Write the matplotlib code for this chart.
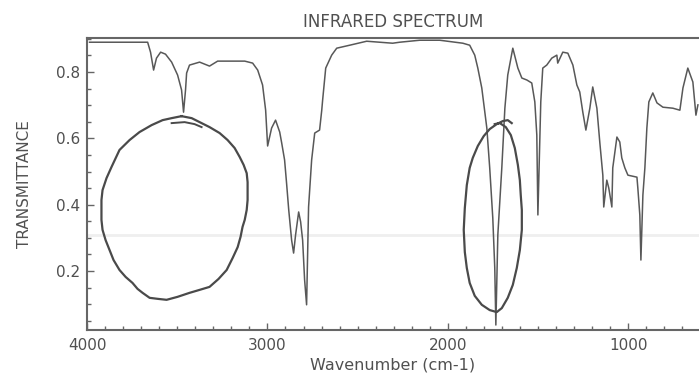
import matplotlib
matplotlib.use('Agg')
import matplotlib.pyplot as plt
from matplotlib.ticker import MultipleLocator

# spectrum (wavenumber, transmittance)
wavenumber = [3986, 3664, 3648, 3631, 3615, 3592, 3565, 3531, 3498, 3476,
              3465, 3454, 3448, 3432, 3376, 3321, 3276, 3210, 3126, 3082,
              3054, 3027, 3010, 2999, 2977, 2955, 2932, 2921, 2905, 2894,
              2882, 2866, 2855, 2844, 2827, 2816, 2805, 2794, 2783, 2772,
              2755, 2738, 2711, 2699, 2694, 2677, 2644, 2616, 2544, 2450,
              2306, 2267, 2156, 2045, 1917, 1879, 1851, 1834, 1812, 1784,
              1768, 1751, 1740, 1734, 1723, 1701, 1684, 1668, 1640, 1612,
              1590, 1562, 1535, 1518, 1507, 1501, 1485, 1474, 1452, 1424,
              1396, 1391, 1363, 1335, 1307, 1285, 1269, 1252, 1235, 1213,
              1197, 1174, 1158, 1141, 1136, 1119, 1108, 1091, 1086, 1063,
              1047, 1036, 1019, 1002, 952, 947, 936, 930, 919, 908,
              897, 886, 864, 841, 808, 753, 714, 697, 670, 642,
              625, 614]
transmittance = [0.890, 0.890, 0.860, 0.806, 0.842, 0.860, 0.854, 0.830, 0.791, 0.746,
                 0.679, 0.746, 0.797, 0.821, 0.830, 0.818, 0.833, 0.833, 0.833, 0.827,
                 0.806, 0.761, 0.685, 0.577, 0.631, 0.655, 0.619, 0.586, 0.535, 0.465,
                 0.384, 0.293, 0.254, 0.309, 0.378, 0.348, 0.293, 0.173, 0.098, 0.393,
                 0.535, 0.616, 0.625, 0.685, 0.716, 0.812, 0.851, 0.872, 0.881, 0.893,
                 0.887, 0.890, 0.896, 0.896, 0.887, 0.881, 0.851, 0.812, 0.752, 0.631,
                 0.511, 0.360, 0.209, 0.037, 0.309, 0.511, 0.691, 0.791, 0.872, 0.812,
                 0.782, 0.776, 0.767, 0.710, 0.610, 0.369, 0.710, 0.812, 0.821, 0.842,
                 0.851, 0.827, 0.860, 0.857, 0.821, 0.761, 0.740, 0.679, 0.625, 0.691,
                 0.755, 0.691, 0.589, 0.489, 0.393, 0.474, 0.450, 0.393, 0.511, 0.604,
                 0.589, 0.541, 0.511, 0.489, 0.483, 0.450, 0.369, 0.233, 0.429, 0.511,
                 0.631, 0.710, 0.737, 0.707, 0.694, 0.691, 0.685, 0.752, 0.812, 0.770,
                 0.670, 0.701]

# hand drawn circles on the print
left_circle_wn = [3476, 3420, 3376, 3321, 3265, 3221, 3182, 3154, 3132, 3115,
                  3110, 3110, 3110, 3115, 3126, 3138, 3149, 3165, 3193, 3226,
                  3271, 3321, 3376, 3432, 3498, 3559, 3609, 3653, 3692, 3720,
                  3748, 3786, 3820, 3853, 3875, 3897, 3914, 3920, 3920, 3920,
                  3914, 3892, 3864, 3820, 3764, 3709, 3642, 3581, 3531, 3476]
left_circle_t = [0.667, 0.661, 0.649, 0.634, 0.616, 0.595, 0.571, 0.544, 0.520, 0.495,
                 0.468, 0.444, 0.414, 0.384, 0.354, 0.333, 0.303, 0.272, 0.239, 0.203,
                 0.176, 0.152, 0.143, 0.134, 0.122, 0.113, 0.116, 0.119, 0.134, 0.146,
                 0.164, 0.182, 0.203, 0.233, 0.263, 0.293, 0.324, 0.354, 0.384, 0.414,
                 0.444, 0.480, 0.514, 0.565, 0.595, 0.619, 0.640, 0.655, 0.661, 0.667]
overlap_wn = [3531, 3459, 3404, 3365]
overlap_t = [0.646, 0.649, 0.643, 0.634]
right_circle_wn = [1646, 1668, 1696, 1729, 1768, 1801, 1834, 1862, 1879, 1895,
                   1906, 1912, 1906, 1895, 1879, 1851, 1812, 1768, 1729, 1701,
                   1668, 1640, 1618, 1601, 1590, 1590, 1596, 1601, 1612, 1629,
                   1651, 1679, 1712, 1740]
right_circle_t = [0.646, 0.655, 0.652, 0.643, 0.628, 0.607, 0.577, 0.541, 0.511, 0.459,
                  0.390, 0.324, 0.257, 0.209, 0.164, 0.125, 0.098, 0.082, 0.076, 0.088,
                  0.119, 0.158, 0.209, 0.263, 0.324, 0.384, 0.429, 0.474, 0.520, 0.571,
                  0.610, 0.634, 0.646, 0.643]

TEXT = '#505050'
LINE = '#585858'
PEN = '#4a4a4a'

fig = plt.figure(figsize=(6.99, 3.77), dpi=100)
ax = fig.add_axes([0.1245, 0.1247, 0.8755, 0.7743])

# faint scanner streak
ax.axhline(0.309, color='#efefef', linewidth=2, zorder=0)
ax.plot(wavenumber, transmittance, color=LINE, linewidth=1.1)
ax.plot(left_circle_wn, left_circle_t, color=PEN, linewidth=1.6, solid_joinstyle='round')
ax.plot(overlap_wn, overlap_t, color=PEN, linewidth=1.4)
ax.plot(right_circle_wn, right_circle_t, color=PEN, linewidth=1.6, solid_joinstyle='round')

ax.set_xlim(4000, 608)
ax.set_ylim(0.022, 0.9025)
ax.xaxis.set_major_locator(MultipleLocator(1000))
ax.xaxis.set_minor_locator(MultipleLocator(100))
ax.yaxis.set_major_locator(MultipleLocator(0.2))
ax.yaxis.set_minor_locator(MultipleLocator(0.05))
ax.tick_params(which='both', direction='in', colors='#666666', labelcolor=TEXT,
               labelsize=11, width=1)
ax.tick_params(which='major', length=5, pad=5)
ax.tick_params(which='minor', length=3)
ax.tick_params(axis='x', which='major', pad=6)

for side in ['left', 'bottom', 'top']:
    ax.spines[side].set_color('#666666')
    ax.spines[side].set_linewidth(1.5)
ax.spines['right'].set_visible(False)

ax.set_title('INFRARED SPECTRUM', fontsize=12, color=TEXT, pad=8)
ax.set_xlabel('Wavenumber (cm-1)', fontsize=11.5, color=TEXT, labelpad=3)
ax.set_ylabel('TRANSMITTANCE', fontsize=11, color=TEXT, labelpad=17)

fig.savefig('out.png', dpi=100)
